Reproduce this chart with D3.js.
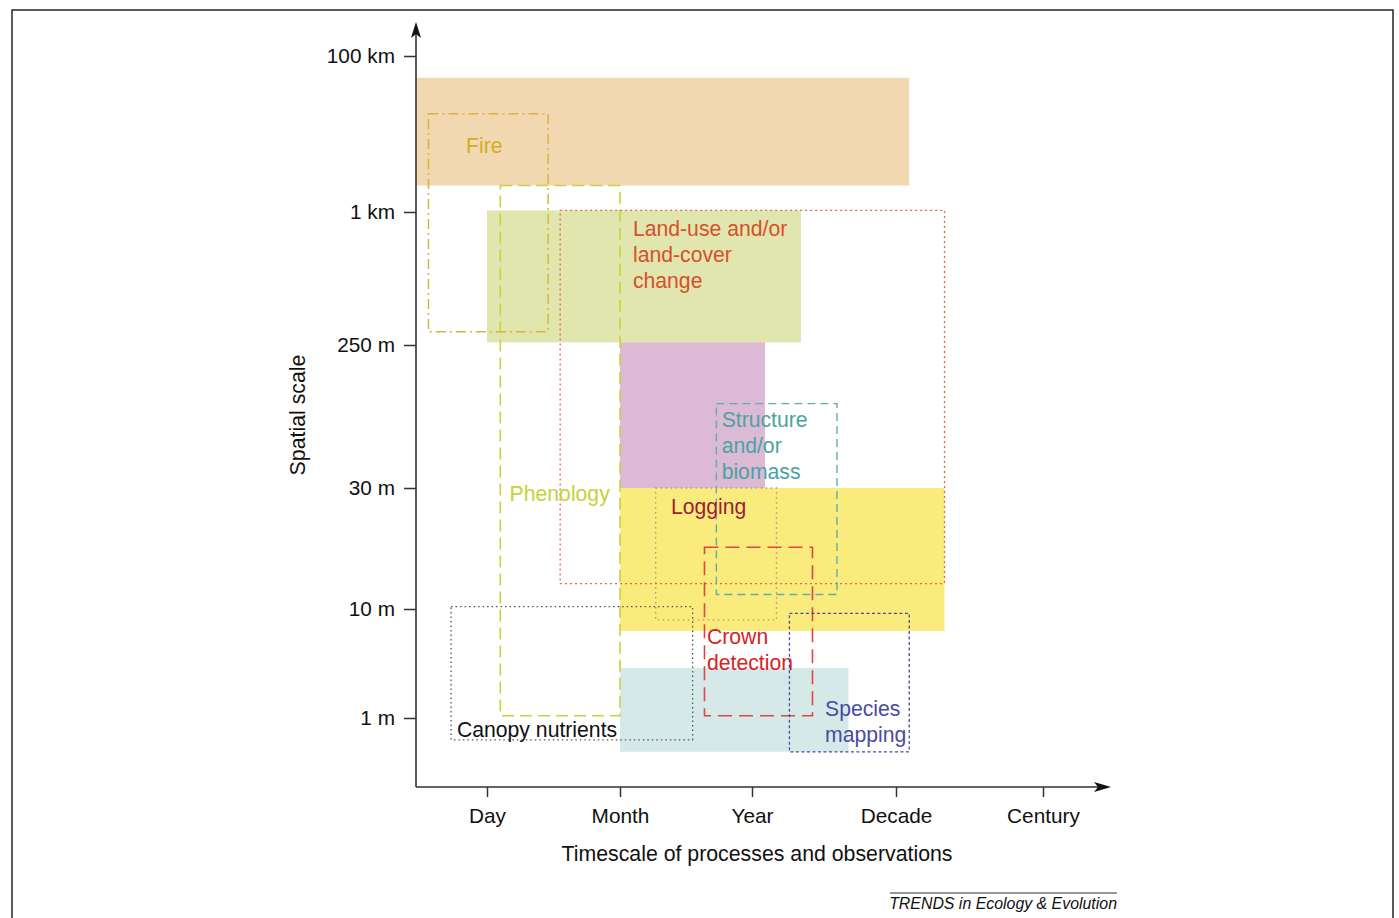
<!DOCTYPE html>
<html>
<head>
<meta charset="utf-8">
<script src="https://cdn.jsdelivr.net/npm/d3@7"></script>
<style>
  body { margin: 0; background: #fff; }
  text { font-family: "Liberation Sans", Arial, sans-serif; }
</style>
</head>
<body>
<div class="container"></div>
<script>
// Tick labels (the axes are ordinal steps, not true units)
const timeTicks = ["Day", "Month", "Year", "Decade", "Century"];
const spaceTicks = ["100 km", "1 km", "250 m", "30 m", "10 m", "1 m"];

// Filled bands, extents in tick steps: [x0, x1, y0, y1]
const bandNames = ["coarse", "moderate", "medium", "fine", "veryfine"];
const bandExtents = [
    [-0.53, 3.09, 0.14, 0.83],
    [0.00, 2.34, 0.99, 1.98],
    [1.00, 2.09, 1.98, 3.00],
    [1.00, 3.33, 3.00, 4.20],
    [1.00, 2.67, 4.54, 5.31]
];

// Process / observation boxes, extents in tick steps
const processNames = ["Fire", "Phenology", "Land-use", "Structure", "Logging", "Crown", "Canopy", "Species"];
const processExtents = [
    [-0.44, 0.46, 0.37, 1.90],
    [0.10, 1.00, 0.83, 4.98],
    [0.55, 3.33, 0.99, 3.79],
    [1.73, 2.59, 2.41, 3.88],
    [1.27, 2.17, 3.00, 4.10],
    [1.64, 2.42, 3.49, 4.98],
    [-0.27, 1.55, 3.98, 5.20],
    [2.26, 3.09, 4.04, 5.31]
];
const processLabels = [
    ["Fire"],
    ["Phenology"],
    ["Land-use and/or", "land-cover", "change"],
    ["Structure", "and/or", "biomass"],
    ["Logging"],
    ["Crown", "detection"],
    ["Canopy nutrients"],
    ["Species", "mapping"]
];

document.addEventListener('DOMContentLoaded', function(){

    const width = 1399
    const height = 918

    const svg = d3.select(".container")
        .append("svg")
        .attr("width", width)
        .attr("height", height)

    // outer frame
    svg.append("rect")
        .attr("x", 12).attr("y", 10)
        .attr("width", 1381).attr("height", height + 20)
        .attr("fill", "none")
        .attr("stroke", "#333")
        .attr("stroke-width", 1.6)

    const x = d3.scaleLinear()
        .domain([0, 1, 2, 3, 4])
        .range([487, 620, 752, 896, 1043])
    const y = d3.scaleLinear()
        .domain([0, 1, 2, 3, 4, 5])
        .range([56, 212, 345, 488, 609, 718])

    const originX = 416, originY = 787

    const bandColors = ["#f2d8b0", "#e1e6ae", "#dcbad5", "#f9ec7c", "#d6e9e9"]
    const procStyle = {
        "Fire":      {stroke: "#d9b43c", text: "#d4ac2c", dash: "10,4,2,4", w: 1.5},
        "Phenology": {stroke: "#c8d33a", text: "#c4d23c", dash: "12,6", w: 1.6},
        "Land-use":  {stroke: "#e8644a", text: "#d6502c", dash: "2,3", w: 1.3},
        "Structure": {stroke: "#62acac", text: "#4aa3a3", dash: "8,5", w: 1.4},
        "Logging":   {stroke: "#c98c74", text: "#a01c38", dash: "1.5,3.5", w: 1.4},
        "Crown":     {stroke: "#e04444", text: "#d62424", dash: "14,7", w: 1.6},
        "Canopy":    {stroke: "#555555", text: "#111111", dash: "1.5,3", w: 1.3},
        "Species":   {stroke: "#4a4aa0", text: "#4a4ca0", dash: "3,2.5", w: 1.3}
    }
    // label anchor in tick steps [x, baseline y], plus anchor mode
    const labelSpots = {
        "Fire": [-0.02, 0.62, "middle"],
        "Phenology": [0.17, 3.107, "start"],
        "Land-use": [1.098, 1.18, "start"],
        "Structure": [1.77, 2.573, "start"],
        "Logging": [1.386, 3.215, "start"],
        "Crown": [1.659, 4.32, "start"],
        "Canopy": [-0.226, 5.174, "start"],
        "Species": [2.507, 4.98, "start"]
    }

    const rectOf = sel => sel
        .attr("x", d => x(d[0]))
        .attr("y", d => y(d[2]))
        .attr("width", d => x(d[1]) - x(d[0]))
        .attr("height", d => y(d[3]) - y(d[2]))

    // Bands
    svg.append("g")
        .attr("class", "bands")
        .selectAll("rect")
        .data(bandExtents)
        .enter()
        .append("rect")
            .call(rectOf)
            .attr("fill", (d, i) => bandColors[i])

    // Process boxes
    svg.append("g")
        .attr("class", "processes")
        .selectAll("rect")
        .data(processExtents)
        .enter()
        .append("rect")
            .call(rectOf)
            .attr("fill", "none")
            .attr("stroke", (d, i) => procStyle[processNames[i]].stroke)
            .attr("stroke-width", (d, i) => procStyle[processNames[i]].w)
            .attr("stroke-dasharray", (d, i) => procStyle[processNames[i]].dash)

    // Labels
    const labels = svg.append("g")
        .attr("class", "labels")
        .selectAll("text")
        .data(processLabels)
        .enter()
        .append("text")
            .attr("x", (d, i) => x(labelSpots[processNames[i]][0]))
            .attr("y", (d, i) => y(labelSpots[processNames[i]][1]))
            .attr("text-anchor", (d, i) => labelSpots[processNames[i]][2])
            .attr("fill", (d, i) => procStyle[processNames[i]].text)
            .style("font-size", "21.2px")

    labels.each(function(lines, i) {
        const t = d3.select(this)
        const lx = x(labelSpots[processNames[i]][0])
        lines.forEach((line, k) => {
            t.append("tspan")
                .attr("x", lx)
                .attr("dy", k === 0 ? 0 : 26)
                .text(line)
        })
    })

    // Axes
    const yAxis = svg.append("g")
        .attr("transform", `translate(${originX},0)`)
        .call(d3.axisLeft(y)
            .tickValues(d3.range(spaceTicks.length))
            .tickFormat(i => spaceTicks[i])
            .tickSize(12)
            .tickPadding(9))
    const xAxis = svg.append("g")
        .attr("transform", `translate(0,${originY})`)
        .call(d3.axisBottom(x)
            .tickValues(d3.range(timeTicks.length))
            .tickFormat(i => timeTicks[i])
            .tickSize(10)
            .tickPadding(11))

    ;[yAxis, xAxis].forEach(ax => {
        ax.select(".domain").remove()
        ax.selectAll(".tick line").attr("stroke", "#333").attr("stroke-width", 1.5)
        ax.selectAll(".tick text")
            .attr("fill", "#111")
            .style("font-size", "20.8px")
            .style("font-family", "'Liberation Sans', Arial, sans-serif")
    })

    // axis lines with arrowheads
    svg.append("path")
        .attr("d", `M${originX},${originY}V30M${originX},${originY}H1100`)
        .attr("fill", "none")
        .attr("stroke", "#333")
        .attr("stroke-width", 1.6)
    svg.append("path")
        .attr("d", `M${originX},22 L${originX - 5},38 L${originX},34 L${originX + 5},38Z`)
        .attr("fill", "#111")
    svg.append("path")
        .attr("d", `M1111,${originY} L1094,${originY - 5} L1098,${originY} L1094,${originY + 5}Z`)
        .attr("fill", "#111")

    // Axis titles
    svg.append("text")
        .attr("transform", "translate(305,415) rotate(-90)")
        .attr("text-anchor", "middle")
        .attr("fill", "#111")
        .style("font-size", "21.3px")
        .text("Spatial scale")
    svg.append("text")
        .attr("x", 757)
        .attr("y", 861)
        .attr("text-anchor", "middle")
        .attr("fill", "#111")
        .style("font-size", "21.3px")
        .text("Timescale of processes and observations")

    // Footer
    svg.append("line")
        .attr("x1", 890).attr("x2", 1117)
        .attr("y1", 893).attr("y2", 893)
        .attr("stroke", "#333")
        .attr("stroke-width", 1)
    svg.append("text")
        .attr("x", 1117)
        .attr("y", 909)
        .attr("text-anchor", "end")
        .attr("fill", "#111")
        .style("font-size", "15.9px")
        .style("font-style", "italic")
        .text("TRENDS in Ecology & Evolution")
});
</script>
</body>
</html>
